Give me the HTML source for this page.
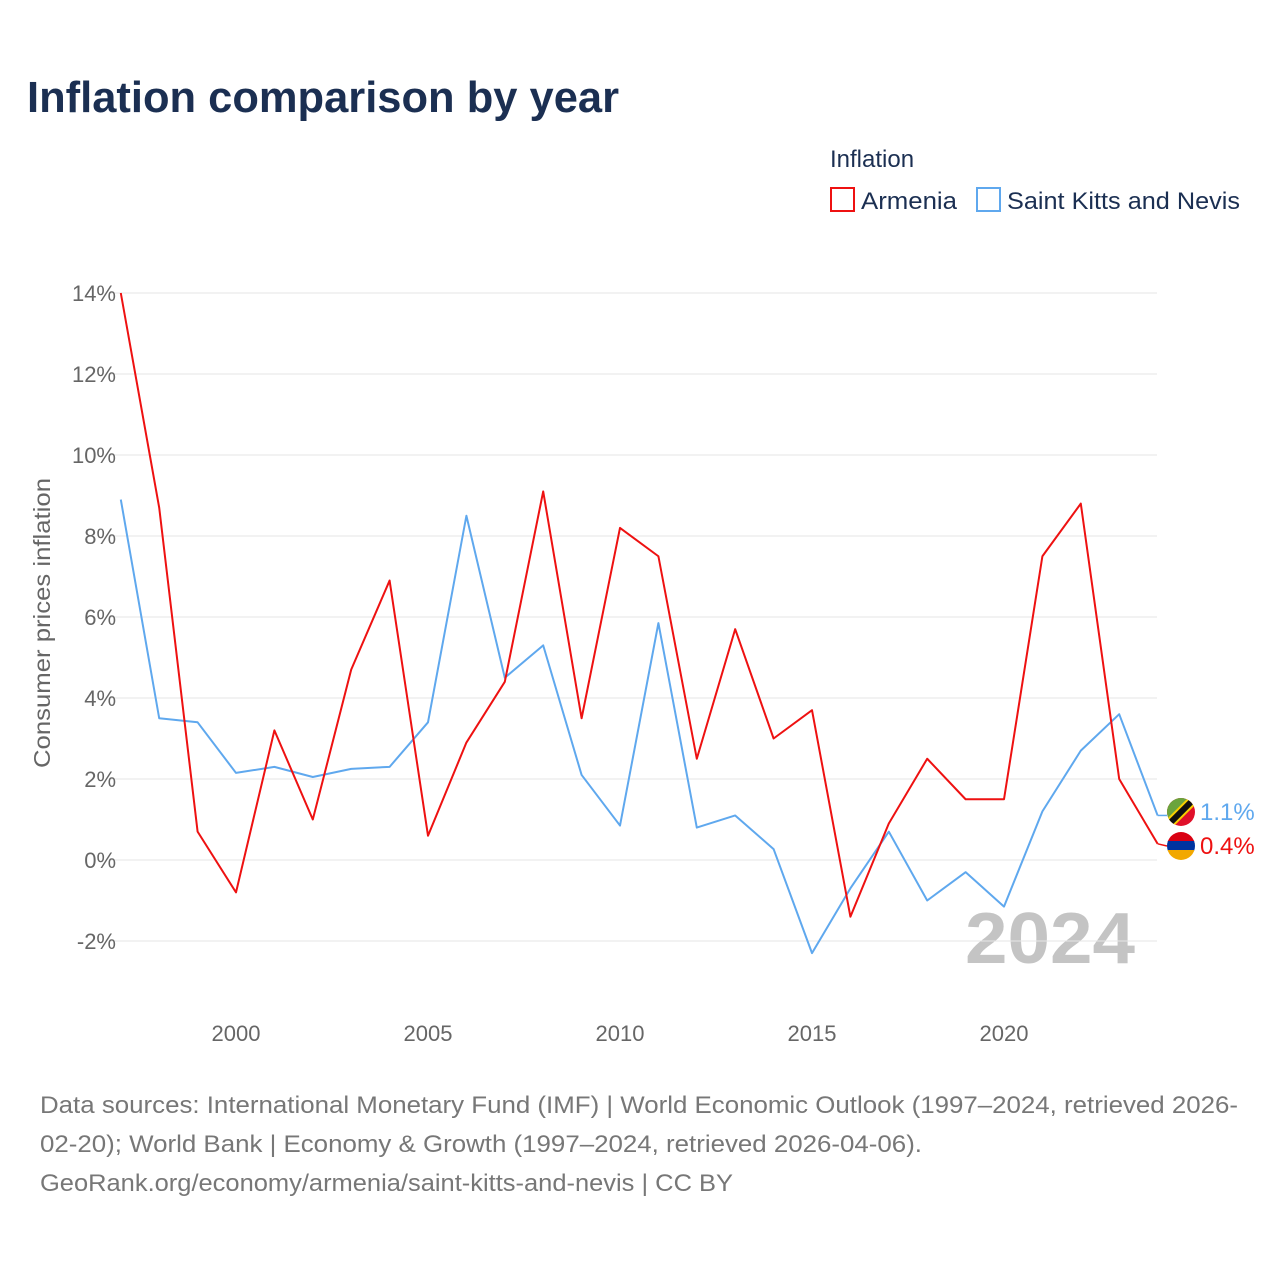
<!DOCTYPE html>
<html><head><meta charset="utf-8"><style>
body{margin:0;background:#fff;font-family:"Liberation Sans",sans-serif;}
#wrap{position:relative;width:1280px;height:1280px;overflow:hidden;}
</style></head><body>
<div id="wrap">
<svg id="chart" width="1280" height="1280" font-family="Liberation Sans, sans-serif">
<text x="27" y="112" font-size="44" font-weight="bold" fill="#1b2f52" textLength="592" lengthAdjust="spacingAndGlyphs">Inflation comparison by year</text>
<text x="830" y="167" font-size="24" fill="#1b2f52">Inflation</text>
<g><rect x="831" y="188" width="23" height="23" fill="none" stroke="#ee1111" stroke-width="2"/><text x="861" y="209" font-size="24" fill="#1b2f52" textLength="96" lengthAdjust="spacingAndGlyphs">Armenia</text></g>
<g><rect x="977" y="188" width="23" height="23" fill="none" stroke="#5fa8ee" stroke-width="2"/><text x="1007" y="209" font-size="24" fill="#1b2f52" textLength="233" lengthAdjust="spacingAndGlyphs">Saint Kitts and Nevis</text></g>
<text transform="translate(50,623) rotate(-90)" text-anchor="middle" font-size="23" fill="#666" textLength="290" lengthAdjust="spacingAndGlyphs">Consumer prices inflation</text>
<text x="965" y="963" font-size="72" font-weight="bold" fill="#c4c4c4" textLength="170" lengthAdjust="spacingAndGlyphs">2024</text>
<g id="grid"></g><g id="series"></g>
<text x="40" y="1113" font-size="24" fill="#777" textLength="1198" lengthAdjust="spacingAndGlyphs">Data sources: International Monetary Fund (IMF) | World Economic Outlook (1997–2024, retrieved 2026-</text>
<text x="40" y="1152" font-size="24" fill="#777" textLength="882" lengthAdjust="spacingAndGlyphs">02-20); World Bank | Economy &amp; Growth (1997–2024, retrieved 2026-04-06).</text>
<text x="40" y="1191" font-size="24" fill="#777" textLength="693" lengthAdjust="spacingAndGlyphs">GeoRank.org/economy/armenia/saint-kitts-and-nevis | CC BY</text>
</svg></div>
<script>
const years=[];for(let y=1997;y<=2024;y++)years.push(y);
const armenia=[14.0,8.7,0.7,-0.8,3.2,1.0,4.7,6.9,0.6,2.9,4.4,9.1,3.5,8.2,7.5,2.5,5.7,3.0,3.7,-1.4,0.9,2.5,1.5,1.5,7.5,8.8,2.0,0.4];
const skn=[8.9,3.5,3.4,2.15,2.3,2.05,2.25,2.3,3.4,8.5,4.5,5.3,2.1,0.85,5.85,0.8,1.1,0.27,-2.3,-0.7,0.7,-1.0,-0.3,-1.15,1.2,2.7,3.6,1.1];
const yTicks=[-2,0,2,4,6,8,10,12,14];
const xTicks=[2000,2005,2010,2015,2020];
const X=y=>120.8+(y-1997)*38.4;
const Y=v=>860-v*40.5;
const NS="http://www.w3.org/2000/svg";
function mk(t,a,p){const e=document.createElementNS(NS,t);for(const k in a)e.setAttribute(k,a[k]);p.appendChild(e);return e;}
const g=document.getElementById('grid'),s=document.getElementById('series');
yTicks.forEach(v=>{
 const l=mk('line',{x1:110,x2:1157,y1:Y(v),y2:Y(v),stroke:'#e6e6e6','stroke-width':1},g);
 
 
 const t=mk('text',{x:116,y:Y(v)+8,'text-anchor':'end','font-size':22,fill:'#666'},g);t.textContent=v+'%';
 
 
});
xTicks.forEach(v=>{
 const t=mk('text',{x:X(v),y:1041,'text-anchor':'middle','font-size':22,fill:'#666'},g);t.textContent=v;
 
 
});
function line(data,color,name){
 const p=mk('polyline',{points:data.map((v,i)=>X(years[i])+','+Y(v)).join(' '),fill:'none',stroke:color,'stroke-width':2,'stroke-linejoin':'round'},s);
 
 
}
line(skn,'#5fa8ee','line-saint-kitts-and-nevis');
line(armenia,'#ee1111','line-armenia');
const lx=X(2024);
const la=armenia[armenia.length-1], ls=skn[skn.length-1];
mk('line',{x1:lx,x2:1167,y1:Y(ls),y2:Y(ls),stroke:'#5fa8ee','stroke-width':1.5},s);
mk('line',{x1:lx,x2:1167,y1:Y(la),y2:846,stroke:'#ee1111','stroke-width':1.5},s);
const defs=mk('defs',{},s);
const c1=mk('clipPath',{id:'c1'},defs);mk('circle',{cx:1181,cy:812,r:14},c1);
const c2=mk('clipPath',{id:'c2'},defs);mk('circle',{cx:1181,cy:846,r:14},c2);
const f1=mk('g',{'clip-path':'url(#c1)'},s);


mk('rect',{x:1167,y:798,width:28,height:28,fill:'#e0102a'},f1);
mk('polygon',{points:'1167,798 1195,798 1167,826',fill:'#6aa43c'},f1);
mk('line',{x1:1167,y1:826,x2:1195,y2:798,stroke:'#f8d000','stroke-width':10},f1);
mk('line',{x1:1167,y1:826,x2:1195,y2:798,stroke:'#111','stroke-width':6},f1);
const f2=mk('g',{'clip-path':'url(#c2)'},s);


mk('rect',{x:1167,y:832,width:28,height:10,fill:'#d90012'},f2);
mk('rect',{x:1167,y:841,width:28,height:10,fill:'#0033a0'},f2);
mk('rect',{x:1167,y:850,width:28,height:10,fill:'#f2a800'},f2);
const t1=mk('text',{x:1200,y:820,'font-size':24,fill:'#5fa8ee'},s);t1.textContent=ls.toFixed(1)+'%';


const t2=mk('text',{x:1200,y:854,'font-size':24,fill:'#ee1111'},s);t2.textContent=la.toFixed(1)+'%';


</script>
</body></html>
